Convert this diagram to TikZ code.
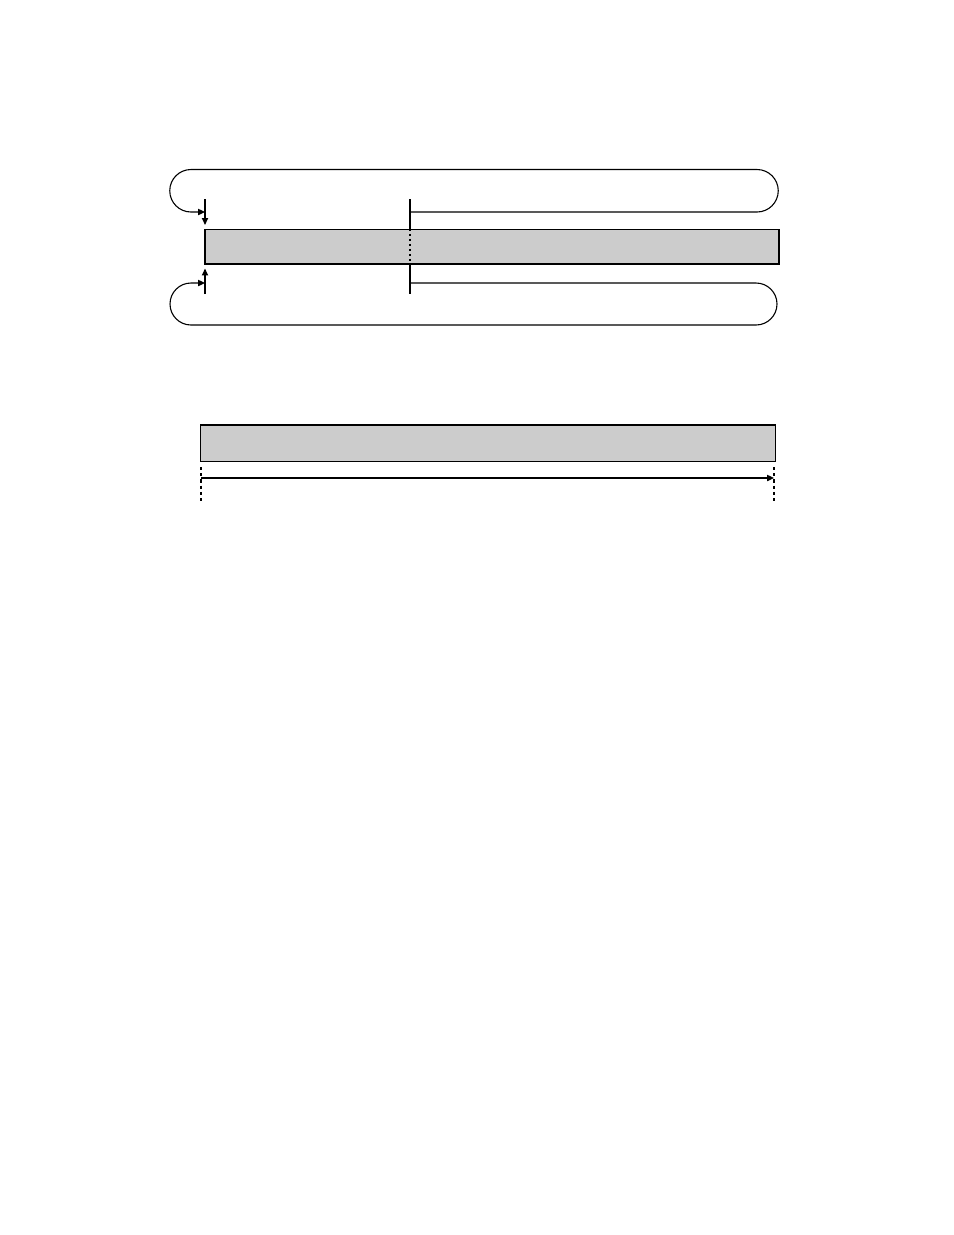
\documentclass[tikz,border=0pt]{standalone}
\usetikzlibrary{arrows.meta,fit}
\definecolor{boxgray}{RGB}{204,204,204}
\begin{document}
\begin{tikzpicture}[x=0.6415pt,y=-0.6415pt, line width=0.7pt,
  gbox/.style={draw, fill=boxgray, inner sep=0pt, line width=0.7pt},
  tip/.style={-{Triangle[length=4.4pt,width=4pt]}},
  loopline/.style={line width=0.7pt},
  dsh/.style={dash pattern=on 1.6pt off 1.6pt},
  dsh2/.style={dash pattern=on 2pt off 2pt}]
\useasboundingbox (0,0) rectangle (954,1235);
% boxes
\node[gbox, fit={(205,229.5) (779,264)}] (b1) {};
\node[gbox, fit={(200.5,425) (775.5,461.5)}] (b2) {};
% marker coordinates, top group
\coordinate (ta) at (205,199);
\coordinate (tb) at (410,199);
\coordinate (ba) at (205,294);
\coordinate (bb) at (410,294);
\coordinate (la) at (205,212);
\coordinate (lb) at (410,212);
\coordinate (ma) at (205,283);
\coordinate (mb) at (410,283);
% vertical markers
\draw[tip, shorten >=2.6pt] (ta) -- (ta |- b1.north);
\draw[tip, shorten >=2.6pt] (ba) -- (ba |- b1.south);
\draw (tb) -- (tb |- b1.north);
\draw[dsh] (tb |- b1.north) -- (tb |- b1.south);
\draw (tb |- b1.south) -- (bb);
% top loop
\draw[loopline, tip] (lb) -- (757,212) arc[start angle=90, end angle=-90, radius=21.25]
  -- (191,169.5) arc[start angle=-90, end angle=-270, radius=21.25] -- (la);
% bottom loop
\draw[loopline, tip] (mb) -- (756,283) arc[start angle=-90, end angle=90, radius=21]
  -- (191,325) arc[start angle=90, end angle=270, radius=21] -- (ma);
% second group
\coordinate (da1) at (201,467);
\coordinate (da2) at (201,504);
\coordinate (db1) at (774,467);
\coordinate (db2) at (774,504);
\coordinate (aa) at (201,478);
\coordinate (ab) at (774,478);
\draw[dsh2] (da1) -- (da2);
\draw[dsh2] (db1) -- (db2);
\draw[tip] (aa) -- (ab);
\end{tikzpicture}
\end{document}
